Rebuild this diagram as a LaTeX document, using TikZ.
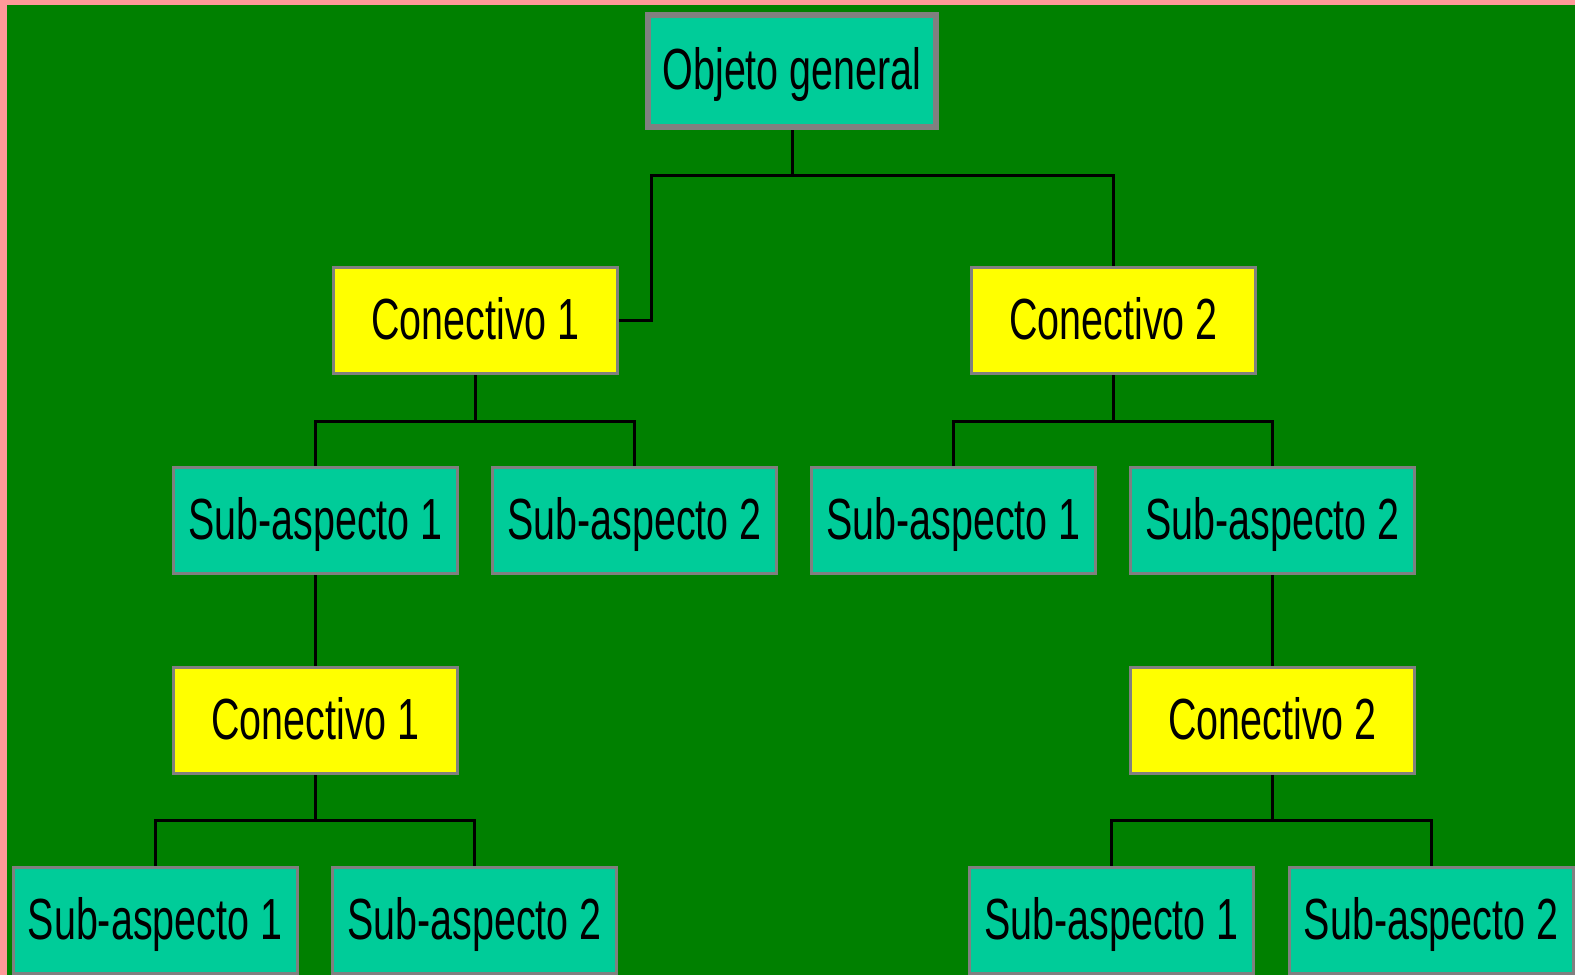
\documentclass[tikz,border=0pt]{standalone}
\usepackage{fontspec}
\setmainfont[FakeStretch=0.68]{Liberation Sans}
\pgfdeclarelayer{back}
\pgfdeclarelayer{wires}
\pgfsetlayers{back,wires,main}
\definecolor{pinkbg}{HTML}{FF9999}
\definecolor{greenbg}{HTML}{008000}
\definecolor{tealbox}{HTML}{00CC99}
\definecolor{yellowbox}{HTML}{FFFF00}
\definecolor{graybord}{HTML}{808080}
\tikzset{
  box/.style={draw=graybord, line width=3pt, rectangle, inner sep=0pt,
    minimum width=284pt, minimum height=106pt,
    font=\fontsize{58}{60}\selectfont, text height=50pt, text depth=13pt},
  subbox/.style={box, fill=tealbox},
  conbox/.style={box, fill=yellowbox},
  topbox/.style={box, fill=tealbox, line width=6pt, minimum width=288pt, minimum height=112pt},
  conn/.style={draw=black, line width=3pt}
}
\begin{document}
\begin{tikzpicture}[x=1pt,y=-1pt]
\begin{pgfonlayer}{back}
  \fill[pinkbg] (0,0) rectangle (1575,975);
  \fill[greenbg] (7,5) rectangle (1575,975);
\end{pgfonlayer}
\useasboundingbox (0,0) rectangle (1575,975);

\node[topbox] (obj) at (792,71) {Objeto general};

\node[conbox] (c1) at (475.5,320.5) {Conectivo 1};
\node[conbox] (c2) at (1113.5,320.5) {Conectivo 2};

\node[subbox] (s11) at (315.5,520.5) {Sub-aspecto 1};
\node[subbox] (s12) at (634.5,520.5) {Sub-aspecto 2};
\node[subbox] (s21) at (953.5,520.5) {Sub-aspecto 1};
\node[subbox] (s22) at (1272.5,520.5) {Sub-aspecto 2};

\node[conbox] (c1b) at (315.5,720.5) {Conectivo 1};
\node[conbox] (c2b) at (1272.5,720.5) {Conectivo 2};

\node[subbox] (b11) at (155,920.5) {Sub-aspecto 1};
\node[subbox] (b12) at (474.5,920.5) {Sub-aspecto 2};
\node[subbox] (b21) at (1111.5,920.5) {Sub-aspecto 1};
\node[subbox] (b22) at (1431,920.5) {Sub-aspecto 2};

\coordinate (k0) at (651,175);
\coordinate (k1) at (475.5,421);
\coordinate (k2) at (1113.5,421);
\coordinate (k3) at (315.5,820);
\coordinate (k4) at (1272.5,820);

\begin{pgfonlayer}{wires}
  \draw[conn] (obj.south) -- (obj.south |- k0);
  \draw[conn] (c1.east) -| (k0) -| (c2.north);

  \draw[conn] (c1.south) -- (k1);
  \draw[conn] (s11.north) |- (k1) -| (s12.north);
  \draw[conn] (c2.south) -- (k2);
  \draw[conn] (s21.north) |- (k2) -| (s22.north);

  \draw[conn] (s11.south) -- (c1b.north);
  \draw[conn] (s22.south) -- (c2b.north);

  \draw[conn] (c1b.south) -- (k3);
  \draw[conn] (b11.north) |- (k3) -| (b12.north);
  \draw[conn] (c2b.south) -- (k4);
  \draw[conn] (b21.north) |- (k4) -| (b22.north);
\end{pgfonlayer}
\end{tikzpicture}
\end{document}
